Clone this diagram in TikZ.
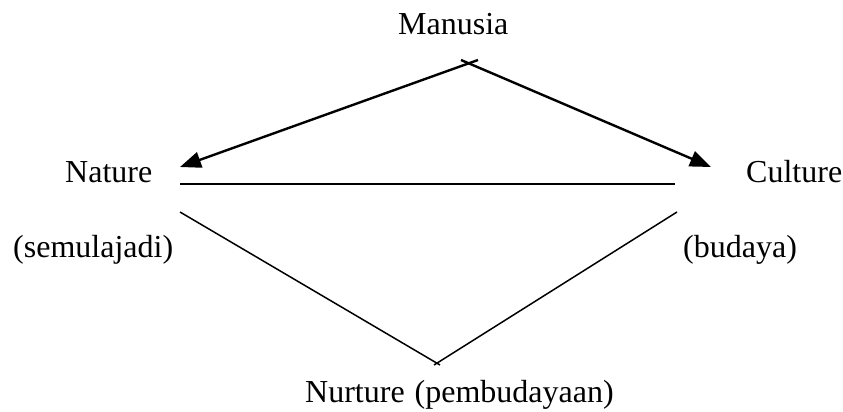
\documentclass[tikz,border=0pt]{standalone}
\usepackage{fontspec}
\setmainfont{Liberation Serif}
\usetikzlibrary{arrows.meta}
\begin{document}
\begin{tikzpicture}[x=1pt,y=-1pt,
  lbl/.style={anchor=base west,inner sep=0pt,font=\fontsize{32}{38}\selectfont},
  arr/.style={line width=2.4pt,-{Triangle[length=21pt,width=16pt]}},
  thick line/.style={line width=2.2pt},
  thin line/.style={line width=1.5pt}]
\useasboundingbox (0,0) rectangle (843,412);
\node[lbl] (man) at (398,35) {Manusia};
\node[lbl] (nat) at (65,182) {Nature};
\node[lbl] (cul) at (746,182) {Culture};
\node[lbl] (sem) at (13,257) {(semulajadi)};
\node[lbl] (bud) at (683,257) {(budaya)};
\node[lbl] (nur) at (305,402) {Nurture\hspace{2pt} (pembudayaan)};
\coordinate (a1) at (478,60);
\coordinate (a2) at (461,60);
\coordinate (tl) at (180,167);
\coordinate (tr) at (711,167);
\coordinate (hl) at (180,184);
\coordinate (hr) at (675,184);
\coordinate (bl) at (180,212);
\coordinate (br) at (677,212);
\coordinate (b1) at (440,365);
\coordinate (b2) at (434,365);
\draw[arr] (a1) -- (tl);
\draw[arr] (a2) -- (tr);
\draw[thick line] (hl) -- (hr);
\draw[thin line] (bl) -- (b1);
\draw[thin line] (b2) -- (br);
\end{tikzpicture}
\end{document}
